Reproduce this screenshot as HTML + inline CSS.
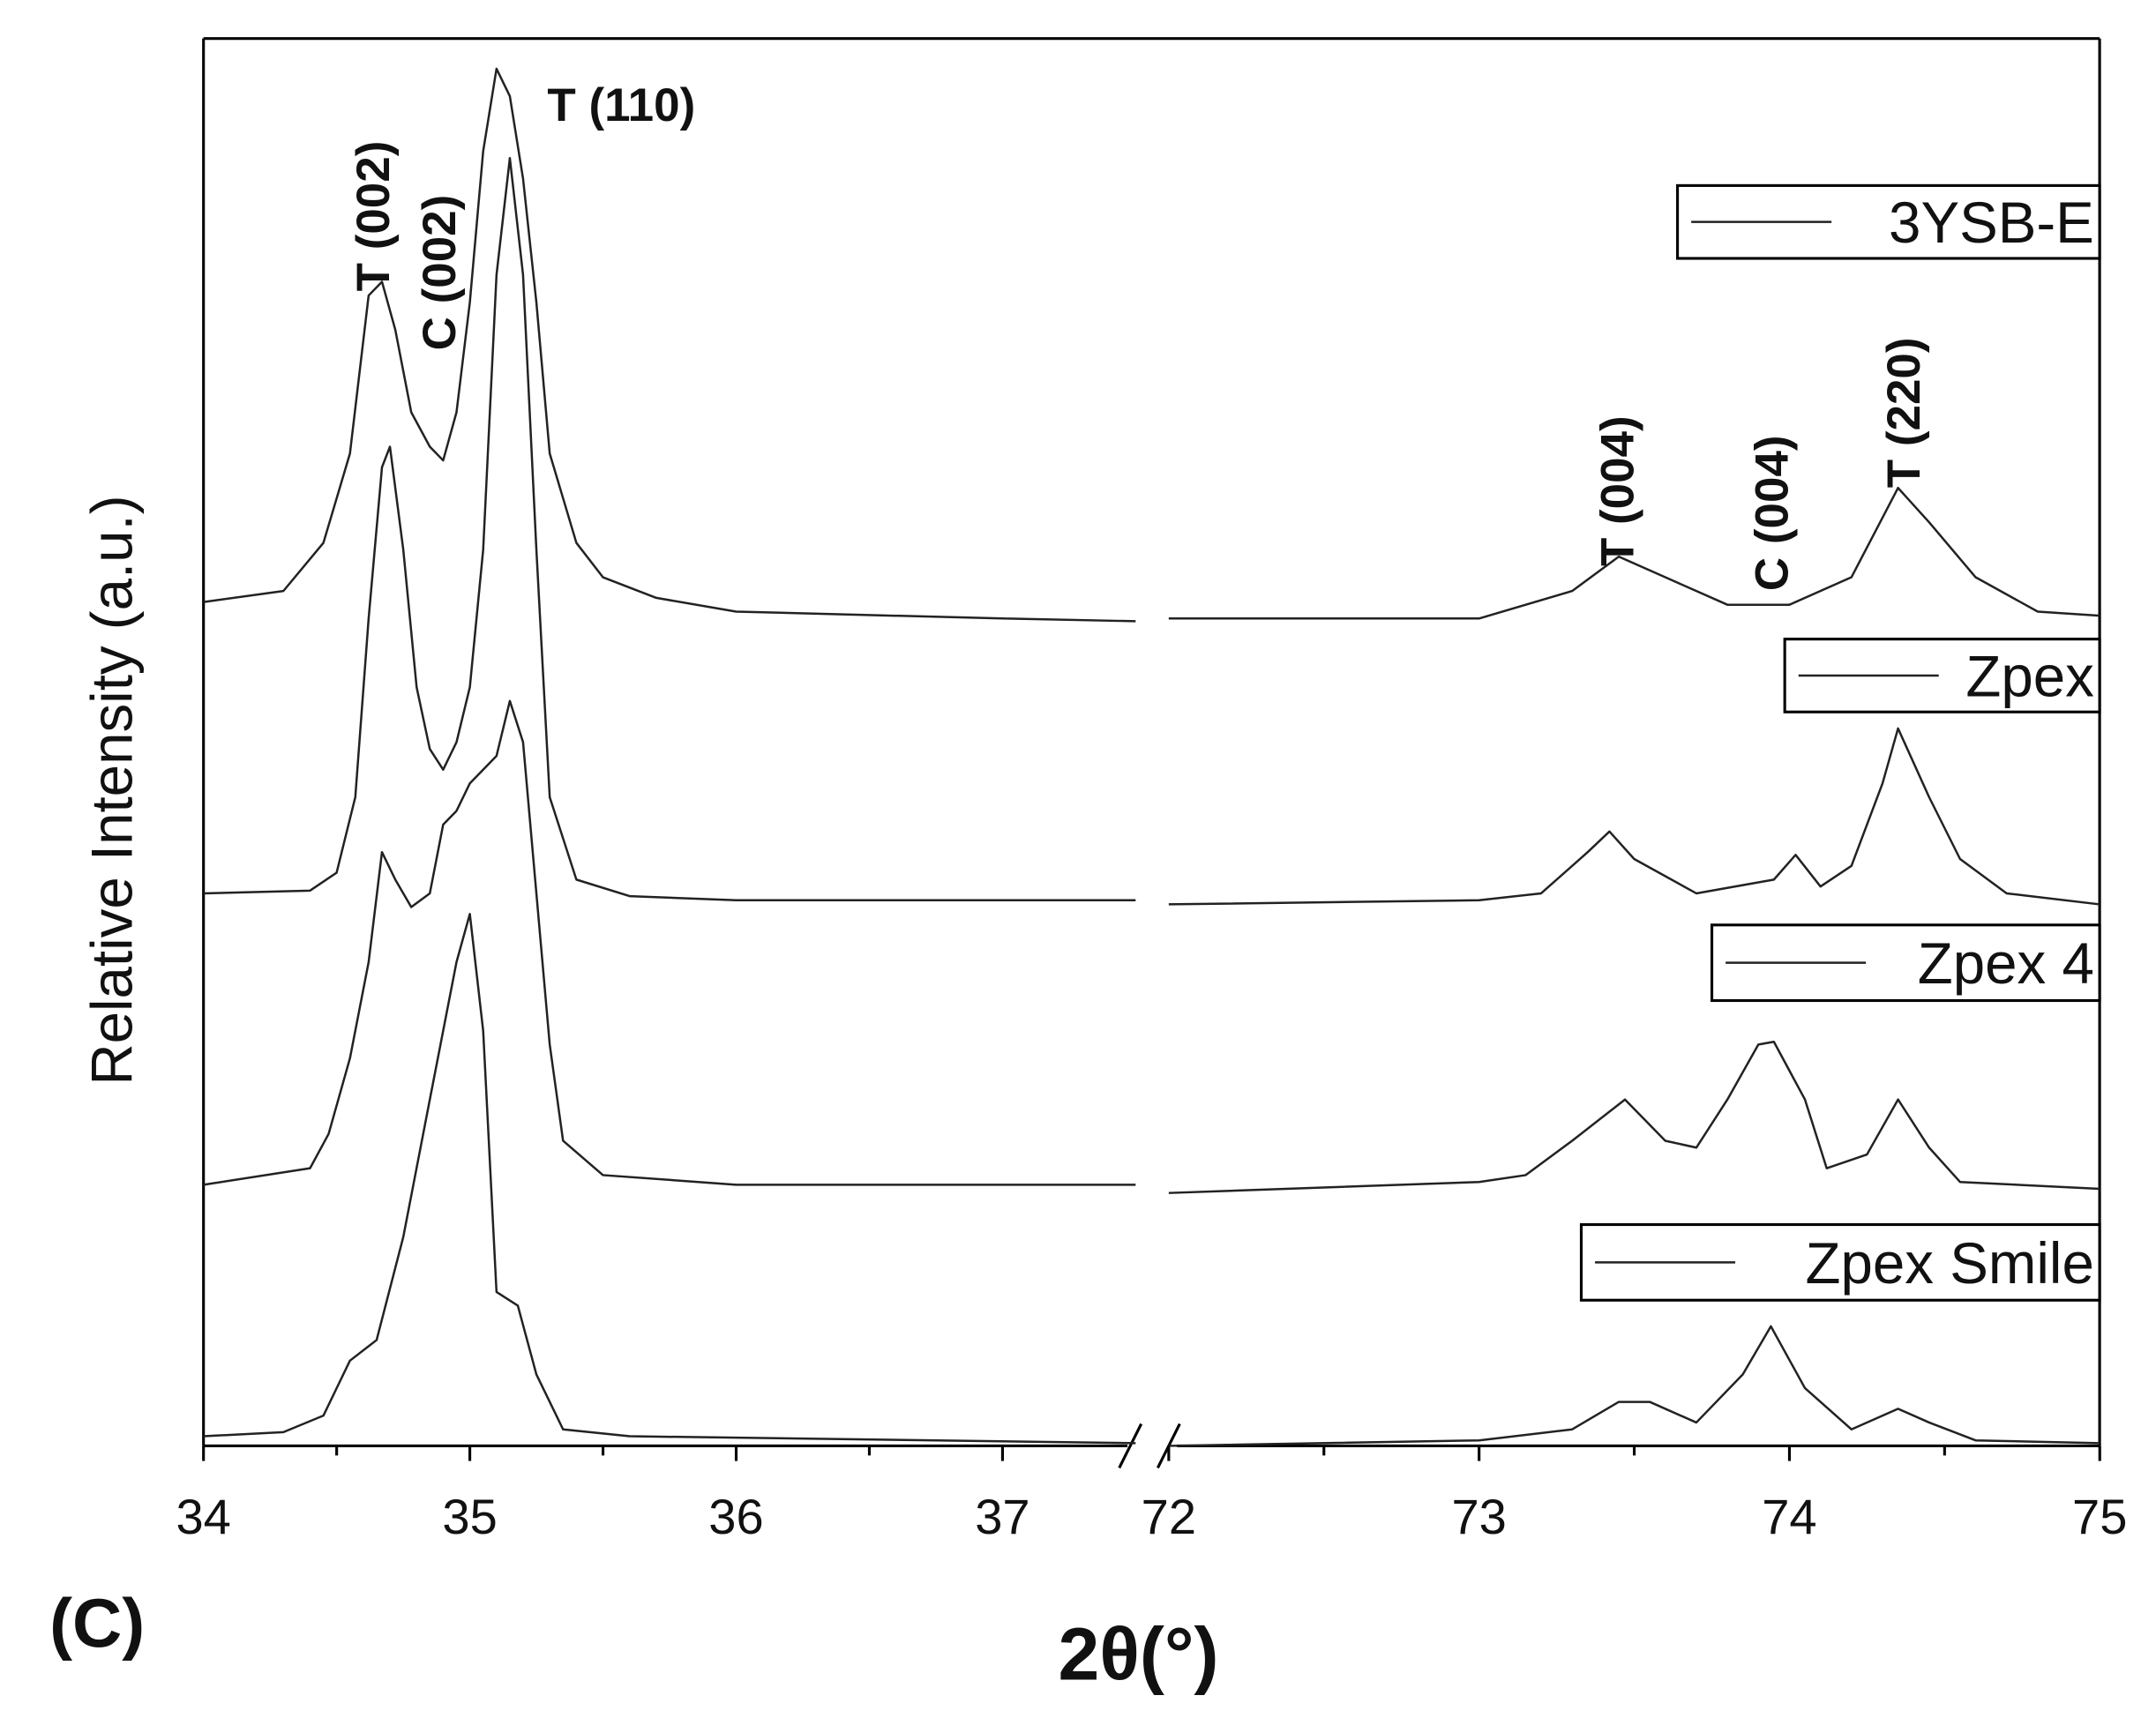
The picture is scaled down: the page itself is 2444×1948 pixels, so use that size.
<!DOCTYPE html>
<html><head><meta charset="utf-8"><style>
html,body{margin:0;padding:0;background:#fff;}
svg{display:block;}
text{font-family:"Liberation Sans",Arial,sans-serif;fill:#111;}
</style></head><body>
<svg id="chart" width="2444" height="1948" viewBox="0 0 1568 1250" preserveAspectRatio="none" xmlns="http://www.w3.org/2000/svg">
<rect x="0" y="0" width="1568" height="1250" fill="#fff"/>
<g id="frame"></g>
<g id="series"></g>
<g id="ticks"></g>
<text transform="translate(96,575) rotate(-90)" text-anchor="middle" font-size="42">Relative Intensity (a.u.)</text>
<text x="828" y="1222" text-anchor="middle" font-size="54" font-weight="bold">2θ(°)</text>
<text x="36" y="1198" font-size="50" font-weight="bold">(C)</text>
<text x="398" y="88" font-size="34" font-weight="bold">T (110)</text>
<text transform="translate(283,212) rotate(-90)" font-size="34" font-weight="bold">T (002)</text>
<text transform="translate(331,255) rotate(-90)" font-size="34" font-weight="bold">C (002)</text>
<text transform="translate(1188,412) rotate(-90)" font-size="34" font-weight="bold">T (004)</text>
<text transform="translate(1300,430) rotate(-90)" font-size="34" font-weight="bold">C (004)</text>
<text transform="translate(1396,355) rotate(-90)" font-size="34" font-weight="bold">T (220)</text>
<g id="legends"></g>
</svg>
<script>
const NS="http://www.w3.org/2000/svg";
const leftTicks=[34,35,36,37];
const rightTicks=[72,73,74,75];
const seriesNames=["3YSB-E","Zpex","Zpex 4","Zpex Smile"];
const seriesOffsets=[440,650,860,1045];
// x positions (deg) and intensities (a.u. above each baseline)
const ysbLeftX=[34,34.3,34.45,34.55,34.62,34.67,34.72,34.78,34.85,34.9,34.95,35.0,35.05,35.1,35.15,35.2,35.25,35.3,35.4,35.5,35.7,36,37,37.5];
const ysbLeftI=[2,10,45,110,225,235,200,140,115,105,140,220,330,390,370,310,220,110,45,20,5,-5,-10,-12];
const ysbRightX=[72,73,73.3,73.45,73.6,73.8,74,74.2,74.35,74.45,74.6,74.8,75];
const ysbRightI=[-10,-10,10,35,20,0,0,20,85,60,20,-5,-8];
const zpexLeftX=[34,34.4,34.5,34.57,34.62,34.67,34.7,34.75,34.8,34.85,34.9,34.95,35.0,35.05,35.1,35.15,35.2,35.25,35.3,35.4,35.6,36,37.5];
const zpexLeftI=[0,2,15,70,200,310,325,250,150,105,90,110,150,250,450,535,450,250,70,10,-2,-5,-5];
const zpexRightX=[72,73,73.2,73.35,73.42,73.5,73.7,73.95,74.02,74.1,74.2,74.3,74.35,74.45,74.55,74.7,75];
const zpexRightI=[-8,-5,0,30,45,25,0,10,28,5,20,80,120,70,25,0,-8];
const z4LeftX=[34,34.4,34.47,34.55,34.62,34.67,34.72,34.78,34.85,34.9,34.95,35.0,35.1,35.15,35.2,35.25,35.3,35.35,35.5,36,37.5];
const z4LeftI=[-2,10,35,90,160,240,220,200,210,260,270,290,310,350,320,210,100,30,5,-2,-2];
const z4RightX=[72,73,73.15,73.3,73.47,73.6,73.7,73.8,73.9,73.95,74.05,74.12,74.25,74.35,74.45,74.55,75];
const z4RightI=[-8,0,5,30,60,30,25,60,100,102,60,10,20,60,25,0,-5];
const smLeftX=[34,34.3,34.45,34.55,34.65,34.75,34.85,34.95,35.0,35.05,35.1,35.18,35.25,35.35,35.6,37.5];
const smLeftI=[0,3,15,55,70,145,245,345,380,295,105,95,45,5,0,-5];
const smRightX=[72,73,73.3,73.45,73.55,73.7,73.85,73.94,74.05,74.2,74.35,74.45,74.6,75];
const smRightI=[-7,-3,5,25,25,10,45,80,35,5,20,10,-3,-5];

const L=148,R=1527,T=28,B=1052,BRK1=826,BRK2=850;
function xl(v){return L+(v-34)*193.7;}
function xr(v){return BRK2+(v-72)*225.7;}
function mk(tag,attrs,parent){const e=document.createElementNS(NS,tag);for(const k in attrs)e.setAttribute(k,attrs[k]);parent.appendChild(e);return e;}
const frame=document.getElementById('frame');
let e;
e=mk('line',{x1:L,y1:T,x2:R,y2:T,stroke:'#000','stroke-width':2},frame);


e=mk('line',{x1:L,y1:T,x2:L,y2:B,stroke:'#000','stroke-width':2},frame);


e=mk('line',{x1:R,y1:T,x2:R,y2:B,stroke:'#000','stroke-width':2},frame);


e=mk('line',{x1:L,y1:B,x2:BRK1-6,y2:B,stroke:'#000','stroke-width':2},frame);


e=mk('line',{x1:BRK2+6,y1:B,x2:R,y2:B,stroke:'#000','stroke-width':2},frame);


e=mk('path',{d:`M${BRK1-12},${B+16} L${BRK1+4},${B-16} M${BRK2-8},${B+16} L${BRK2+8},${B-16}`,stroke:'#000','stroke-width':2,fill:'none'},frame);



const tg=document.getElementById('ticks');
function ticks(arr,fx,minorEnd){
  arr.forEach((v,i)=>{
    const x=fx(v);
    let t=mk('line',{x1:x,y1:B,x2:x,y2:B+11,stroke:'#000','stroke-width':2},tg);
    
    
    let lb=mk('text',{x:x,y:B+64,'text-anchor':'middle','font-size':36},tg);
    lb.textContent=v;
    
    
    const mv=v+0.5;
    if(mv<=minorEnd){
      let m=mk('line',{x1:fx(mv),y1:B,x2:fx(mv),y2:B+7,stroke:'#000','stroke-width':2},tg);
      
      
    }
  });
}
ticks(leftTicks,xl,37.4);
ticks(rightTicks,xr,74.9);

const sg=document.getElementById('series');
const data=[[ysbLeftX,ysbLeftI,ysbRightX,ysbRightI],[zpexLeftX,zpexLeftI,zpexRightX,zpexRightI],[z4LeftX,z4LeftI,z4RightX,z4RightI],[smLeftX,smLeftI,smRightX,smRightI]];
data.forEach((d,si)=>{
  const off=seriesOffsets[si];
  const pl=d[0].map((v,i)=>xl(v).toFixed(1)+','+(off-d[1][i]).toFixed(1)).join(' ');
  const pr=d[2].map((v,i)=>xr(v).toFixed(1)+','+(off-d[3][i]).toFixed(1)).join(' ');
  let a=mk('polyline',{points:pl,fill:'none',stroke:'#222','stroke-width':1.6,'stroke-linejoin':'round'},sg);
  
  
  let b=mk('polyline',{points:pr,fill:'none',stroke:'#222','stroke-width':1.6,'stroke-linejoin':'round'},sg);
  
  
});

const lg=document.getElementById('legends');
const legBoxes=[[1220,135,307,53],[1298,465,229,53],[1245,673,282,55],[1150,891,377,55]];
legBoxes.forEach((bx,i)=>{
  const [x,y,w,h]=bx;
  let r=mk('rect',{x:x,y:y,width:w,height:h,fill:'#fff',stroke:'#000','stroke-width':2},lg);
  
  
  let ln=mk('line',{x1:x+10,y1:y+h/2,x2:x+112,y2:y+h/2,stroke:'#222','stroke-width':1.6},lg);
  
  
  let t=mk('text',{x:x+w-4,y:y+h/2+15,'text-anchor':'end','font-size':42},lg);
  t.textContent=seriesNames[i];
  
  
});
</script>
</body></html>
